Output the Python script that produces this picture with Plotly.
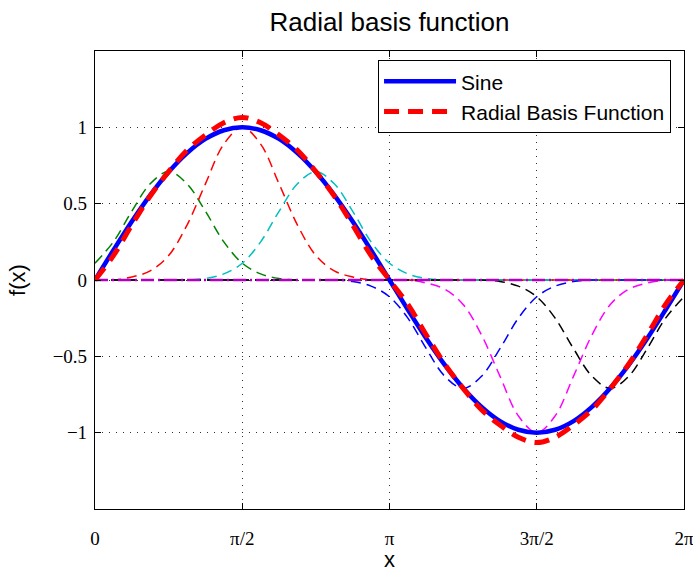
import plotly.graph_objects as go

# x positions in units of pi (0 .. 2 pi, step pi/16)
x_over_pi = [0, 0.0625, 0.125, 0.1875, 0.25, 0.3125, 0.375, 0.4375, 0.5,
             0.5625, 0.625, 0.6875, 0.75, 0.8125, 0.875, 0.9375, 1.0,
             1.0625, 1.125, 1.1875, 1.25, 1.3125, 1.375, 1.4375, 1.5,
             1.5625, 1.625, 1.6875, 1.75, 1.8125, 1.875, 1.9375, 2.0]

sine = [0, 0.195, 0.383, 0.556, 0.707, 0.831, 0.924, 0.981, 1.0,
        0.981, 0.924, 0.831, 0.707, 0.556, 0.383, 0.195, 0.0,
        -0.195, -0.383, -0.556, -0.707, -0.831, -0.924, -0.981, -1.0,
        -0.981, -0.924, -0.831, -0.707, -0.556, -0.383, -0.195, 0.0]

rbf = [0.0, 0.16, 0.36, 0.55, 0.71, 0.85, 0.95, 1.03, 1.065,
       1.03, 0.95, 0.85, 0.71, 0.55, 0.36, 0.16, 0.0,
       -0.16, -0.36, -0.55, -0.71, -0.85, -0.95, -1.03, -1.065,
       -1.03, -0.95, -0.85, -0.71, -0.55, -0.36, -0.16, 0.0]

basis_green = [0.11, 0.25, 0.45, 0.63, 0.71, 0.63, 0.45, 0.25, 0.11,
               0.04, 0.01, 0, 0, 0, 0, 0, 0,
               0, 0, 0, 0, 0, 0, 0, 0,
               0, 0, 0, 0, 0, 0, 0, 0]
basis_red = [0, 0, 0.02, 0.06, 0.16, 0.36, 0.63, 0.89, 1.0,
             0.89, 0.63, 0.36, 0.16, 0.06, 0.02, 0, 0,
             0, 0, 0, 0, 0, 0, 0, 0,
             0, 0, 0, 0, 0, 0, 0, 0]
basis_cyan = [0, 0, 0, 0, 0, 0, 0.01, 0.04, 0.11,
              0.25, 0.45, 0.63, 0.71, 0.63, 0.45, 0.25, 0.11,
              0.04, 0.01, 0, 0, 0, 0, 0, 0,
              0, 0, 0, 0, 0, 0, 0, 0]
basis_blue = [0, 0, 0, 0, 0, 0, 0, 0, 0,
              0, 0, 0, 0, 0, -0.01, -0.04, -0.11,
              -0.25, -0.45, -0.63, -0.71, -0.63, -0.45, -0.25, -0.11,
              -0.04, -0.01, 0, 0, 0, 0, 0, 0]
basis_magenta = [0, 0, 0, 0, 0, 0, 0, 0, 0,
                 0, 0, 0, 0, 0, 0, 0, 0,
                 0, -0.02, -0.06, -0.16, -0.36, -0.63, -0.89, -1.0,
                 -0.89, -0.63, -0.36, -0.16, -0.06, -0.02, 0, 0]
basis_black = [0, 0, 0, 0, 0, 0, 0, 0, 0,
               0, 0, 0, 0, 0, 0, 0, 0,
               0, 0, 0, 0, 0, -0.01, -0.04, -0.11,
               -0.25, -0.45, -0.63, -0.71, -0.63, -0.45, -0.25, -0.11]
zero_line = [0] * 33

x_tick_vals = [0, 0.5, 1, 1.5, 2]
x_tick_text = ["0", "π/2", "π", "3π/2", "2π"]
y_tick_vals = [-1, -0.5, 0, 0.5, 1]
y_tick_text = ["−1", "−0.5", "0", "0.5", "1"]

fig = go.Figure()

thin = [(basis_green, "#008000"), (basis_red, "#ff0000"), (basis_cyan, "#00bfbf"),
        (basis_blue, "#0000ff"), (basis_magenta, "#ff00ff"), (basis_black, "#000000")]
for ys, col in thin:
    fig.add_trace(go.Scatter(x=x_over_pi, y=ys, mode="lines", showlegend=False,
                             line=dict(color=col, width=1.5, dash="10px,6px", shape="spline")))

fig.add_trace(go.Scatter(x=x_over_pi, y=zero_line, mode="lines", showlegend=False,
                         line=dict(color="#b000c0", width=2.5, dash="13px,4px,2px,4px")))

fig.add_trace(go.Scatter(x=x_over_pi, y=sine, mode="lines", name="Sine",
                         line=dict(color="#0000ff", width=4.5, shape="spline")))
fig.add_trace(go.Scatter(x=x_over_pi, y=rbf, mode="lines", name="Radial Basis Function",
                         line=dict(color="#ff0000", width=5, dash="15px,9px", shape="spline")))

axis_common = dict(showline=True, linecolor="black", linewidth=1.2, mirror="ticks",
                   ticks="inside", ticklen=6, tickcolor="black",
                   showgrid=True, gridcolor="#333333", gridwidth=1, griddash="1px,6px",
                   zeroline=False, automargin=False, ticklabeloverflow="allow",
                   tickfont=dict(family="Liberation Serif", size=19, color="black"))

fig.update_xaxes(range=[0, 2], tickvals=x_tick_vals, ticktext=x_tick_text,
                 ticklabelstandoff=12,
                 title=dict(text="x", font=dict(family="Liberation Sans", size=22, color="black"),
                            standoff=1),
                 **axis_common)
fig.update_yaxes(range=[-1.5, 1.5], tickvals=y_tick_vals, ticktext=y_tick_text,
                 ticklabelstandoff=3,
                 title=dict(text="f(x)", font=dict(family="Liberation Sans", size=22, color="black"),
                            standoff=20),
                 **axis_common)

fig.update_layout(
    width=693, height=572,
    margin=dict(l=95, r=9, t=51, b=63),
    paper_bgcolor="white", plot_bgcolor="white",
    title=dict(text="Radial basis function", x=0.5, xref="paper", y=0.9615, yanchor="middle",
               font=dict(family="Liberation Sans", size=26, color="black")),
    legend=dict(x=0.978, y=0.980, xanchor="right", yanchor="top",
                bgcolor="white", bordercolor="black", borderwidth=1,
                font=dict(family="Liberation Sans", size=21, color="black"),
                itemwidth=72, tracegroupgap=0),
    showlegend=True,
)

fig.write_html("out.html")
